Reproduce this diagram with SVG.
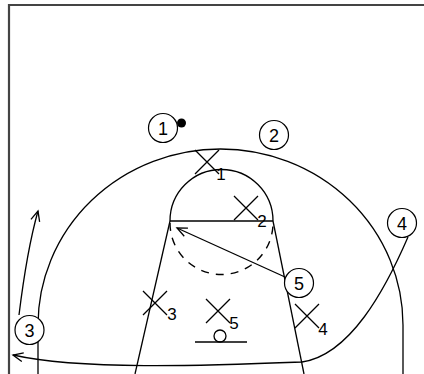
<svg xmlns="http://www.w3.org/2000/svg" width="424" height="374" viewBox="0 0 424 374">
<style>
.ln{fill:none;stroke:#000;stroke-width:1.3}
.dash{fill:none;stroke:#000;stroke-width:1.4;stroke-dasharray:8 7}
.pc{fill:#fff;stroke:#000;stroke-width:1.2}
.tx{font-family:"Liberation Sans",Arial,sans-serif;font-size:18px;fill:#000;text-anchor:middle}
.lb{font-family:"Liberation Sans",Arial,sans-serif;font-size:17px;fill:#000;text-anchor:middle}
</style>
<defs>
<marker id="ah" markerUnits="userSpaceOnUse" markerWidth="14" markerHeight="12" refX="0" refY="0" viewBox="-11 -6 12 12" orient="auto">
<path d="M-10,-4.5 L0,0 L-10,4.5" fill="none" stroke="#000" stroke-width="1.3"/>
</marker>
</defs>
<rect width="424" height="374" fill="#fff"/>
<g id="border">
<path d="M9,374 L9,5 L424,5" fill="none" stroke="#444" stroke-width="2.2"/>
</g>
<g id="court">
<path class="ln" d="M38,374 L38,325 A182.5,176 0 0 1 403,325 L403,374"/>
<path class="ln" d="M170,221 A51.5,51.5 0 0 1 273,221"/>
<path class="ln" d="M170,221 L273,221"/>
<path class="ln" d="M170,221 L135,374"/>
<path class="ln" d="M273,221 L304,374"/>
<path class="dash" d="M170,223 A51.5,51.5 0 0 0 273,223"/>
<path class="ln" d="M195,342 L247,342"/>
<circle class="ln" cx="220" cy="336" r="6"/>
</g>
<g id="connectors">
<path class="ln" d="M19,315 Q27,250 38,211" marker-end="url(#ah)"/>
<path class="ln" d="M285,277 L177,228" marker-end="url(#ah)"/>
<path class="ln" d="M408,237 C385,290 350,355 302,362 C200,366 80,370 13,355" marker-end="url(#ah)"/>
</g>
<g id="x1"><path class="ln" d="M195,150 L219,174 M219,150 L195,174"/><text class="lb" x="221" y="180">1</text></g>
<g id="x2"><path class="ln" d="M234,196 L258,220 M258,196 L234,220"/><text class="lb" x="262" y="227">2</text></g>
<g id="x3"><path class="ln" d="M143,291 L167,315 M167,291 L143,315"/><text class="lb" x="172" y="320">3</text></g>
<g id="x5"><path class="ln" d="M206,299 L230,323 M230,299 L206,323"/><text class="lb" x="234" y="329">5</text></g>
<g id="x4"><path class="ln" d="M295,304 L319,328 M319,304 L295,328"/><text class="lb" x="323" y="335">4</text></g>
<g id="p1"><circle class="pc" cx="163" cy="128" r="14.5"/><text class="tx" x="163" y="134.5">1</text><circle cx="181.5" cy="123" r="4.5" fill="#000"/></g>
<g id="p2"><circle class="pc" cx="274" cy="135" r="14.5"/><text class="tx" x="274" y="141.5">2</text></g>
<g id="p3"><circle class="pc" cx="29.5" cy="330" r="14.5"/><text class="tx" x="29.5" y="336.5">3</text></g>
<g id="p4"><circle class="pc" cx="402" cy="223" r="14.5"/><text class="tx" x="402" y="229.5">4</text></g>
<g id="p5"><circle class="pc" cx="299" cy="283" r="14.5"/><text class="tx" x="299" y="289.5">5</text></g>
</svg>
